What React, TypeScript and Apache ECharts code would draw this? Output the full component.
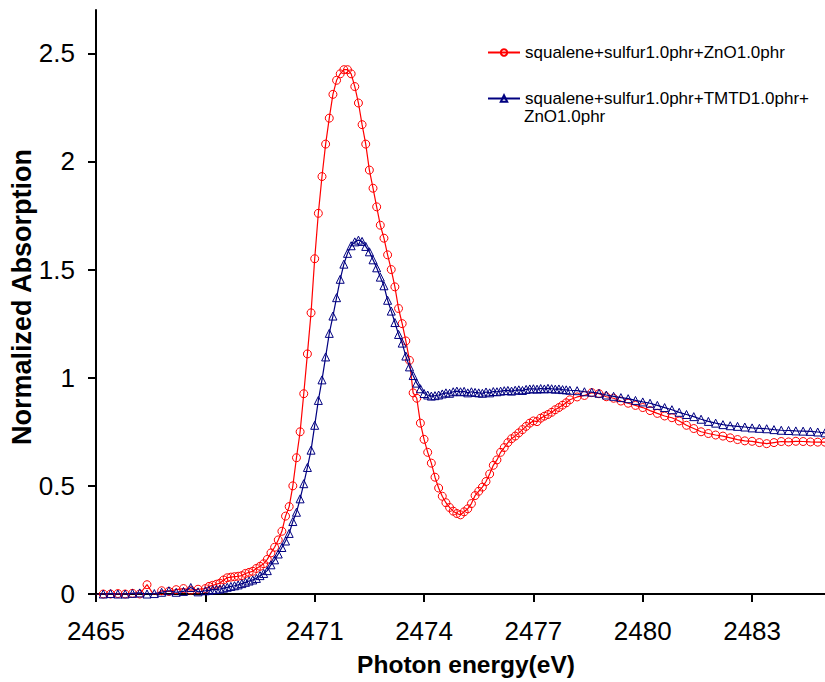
import React, { useEffect, useRef } from "react";
import * as echarts from "echarts";

// Photon energy (eV)
const energy: number[] = [
  2465.0, 2465.2, 2465.4, 2465.6, 2465.8, 2466.0, 2466.2, 2466.4, 2466.6, 2466.8,
  2467.0, 2467.2, 2467.4, 2467.6, 2467.8, 2468.0,
  2468.1, 2468.2, 2468.3, 2468.4, 2468.5, 2468.6, 2468.7, 2468.8, 2468.9, 2469.0,
  2469.1, 2469.2, 2469.3, 2469.4, 2469.5, 2469.6, 2469.7, 2469.8, 2469.9, 2470.0,
  2470.1, 2470.2, 2470.3, 2470.4, 2470.5, 2470.6, 2470.7, 2470.8, 2470.9, 2471.0,
  2471.1, 2471.2, 2471.3, 2471.4, 2471.5, 2471.6, 2471.7, 2471.8, 2471.9, 2472.0,
  2472.1, 2472.2, 2472.3, 2472.4, 2472.5, 2472.6, 2472.7, 2472.8, 2472.9, 2473.0,
  2473.1, 2473.2, 2473.3, 2473.4, 2473.5, 2473.6, 2473.7, 2473.8, 2473.9, 2474.0,
  2474.1, 2474.2, 2474.3, 2474.4, 2474.5, 2474.6, 2474.7, 2474.8, 2474.9, 2475.0,
  2475.1, 2475.2, 2475.3, 2475.4, 2475.5, 2475.6, 2475.7, 2475.8, 2475.9, 2476.0,
  2476.1, 2476.2, 2476.3, 2476.4, 2476.5, 2476.6, 2476.7, 2476.8, 2476.9, 2477.0,
  2477.1, 2477.2, 2477.3, 2477.4, 2477.5, 2477.6, 2477.7, 2477.8, 2477.9, 2478.0,
  2478.2, 2478.4, 2478.6, 2478.8, 2479.0, 2479.2, 2479.4, 2479.6, 2479.8, 2480.0,
  2480.2, 2480.4, 2480.6, 2480.8, 2481.0, 2481.2, 2481.4, 2481.6, 2481.8, 2482.0,
  2482.2, 2482.4, 2482.6, 2482.8, 2483.0, 2483.2, 2483.4, 2483.6, 2483.8, 2484.0,
  2484.2, 2484.4, 2484.6, 2484.8, 2485.0,
];

// squalene+sulfur1.0phr+ZnO1.0phr
const absorptionZnO: number[] = [
  -0.005, 0.0, 0.0, 0.002, 0.0, 0.003, 0.0, 0.043, -0.008, 0.015,
  0.012, 0.02, 0.025, 0.018, 0.022, 0.025,
  0.035, 0.04, 0.045, 0.05, 0.065, 0.075, 0.078, 0.08, 0.082, 0.085,
  0.095, 0.1, 0.105, 0.118, 0.128, 0.14, 0.16, 0.19, 0.216, 0.25,
  0.29, 0.36, 0.404, 0.5, 0.63, 0.75, 0.926, 1.11, 1.3, 1.55,
  1.76, 1.93, 2.08, 2.2, 2.31, 2.375, 2.405, 2.424, 2.424, 2.405,
  2.346, 2.27, 2.17, 2.08, 1.96, 1.876, 1.79, 1.705, 1.645, 1.568,
  1.5, 1.42, 1.32, 1.25, 1.17, 1.08, 0.93, 0.905, 0.79, 0.715,
  0.655, 0.605, 0.54, 0.49, 0.452, 0.422, 0.4, 0.383, 0.372, 0.366,
  0.38, 0.394, 0.418, 0.455, 0.475, 0.494, 0.52, 0.555, 0.595, 0.62,
  0.655, 0.677, 0.7, 0.718, 0.73, 0.745, 0.76, 0.775, 0.79, 0.8,
  0.797, 0.813, 0.822, 0.83, 0.84, 0.852, 0.862, 0.873, 0.884, 0.898,
  0.911, 0.918, 0.931, 0.926, 0.912, 0.905, 0.892, 0.882, 0.872, 0.862,
  0.848, 0.835, 0.823, 0.815, 0.8, 0.78, 0.765, 0.75, 0.742, 0.735,
  0.73, 0.722, 0.714, 0.708, 0.706, 0.7, 0.695, 0.7, 0.705, 0.703,
  0.706, 0.705, 0.703, 0.702, 0.702,
];

// squalene+sulfur1.0phr+TMTD1.0phr+ZnO1.0phr
const absorptionTMTD: number[] = [
  -0.003, 0.0, 0.002, 0.0, 0.0, 0.003, 0.005, 0.0, 0.002, 0.008,
  0.015, 0.008, 0.012, 0.03, 0.01, 0.015,
  0.017, 0.02, 0.021, 0.023, 0.027, 0.031, 0.035, 0.038, 0.042, 0.048,
  0.054, 0.06, 0.065, 0.072, 0.085, 0.095, 0.108, 0.135, 0.158, 0.185,
  0.215, 0.245, 0.28, 0.335, 0.378, 0.44, 0.51, 0.585, 0.665, 0.78,
  0.895, 0.99, 1.096, 1.205, 1.285, 1.37, 1.455, 1.525, 1.575, 1.61,
  1.628, 1.636, 1.63, 1.607, 1.582, 1.545, 1.508, 1.465, 1.425, 1.358,
  1.308, 1.255, 1.2, 1.16, 1.1, 1.05, 1.01, 0.975, 0.949, 0.927,
  0.92, 0.915, 0.917, 0.92, 0.925, 0.93, 0.928, 0.935, 0.938, 0.935,
  0.937, 0.93, 0.935, 0.932, 0.93, 0.928, 0.934, 0.93, 0.936, 0.935,
  0.938, 0.94, 0.941, 0.938, 0.942, 0.944, 0.941, 0.946, 0.948, 0.949,
  0.947, 0.95, 0.948, 0.951, 0.949, 0.947, 0.948, 0.945, 0.944, 0.942,
  0.94, 0.935, 0.933, 0.928, 0.92, 0.914, 0.908, 0.903, 0.895, 0.888,
  0.882, 0.872, 0.862, 0.852, 0.84, 0.83, 0.82, 0.808, 0.798, 0.79,
  0.783, 0.778, 0.775, 0.772, 0.768, 0.766, 0.764, 0.76, 0.757, 0.756,
  0.754, 0.753, 0.752, 0.749, 0.745,
];

const xTicks: number[] = [2465, 2468, 2471, 2474, 2477, 2480, 2483];
const yTicks: number[] = [0, 0.5, 1, 1.5, 2, 2.5];

const seriesNames: string[] = [
  "squalene+sulfur1.0phr+ZnO1.0phr",
  "squalene+sulfur1.0phr+TMTD1.0phr+ZnO1.0phr",
];

const FONT = "'Liberation Sans', Arial, Helvetica, sans-serif";

export default function App() {
  const ref = useRef<HTMLDivElement>(null);

  useEffect(() => {
    if (!ref.current) return;
    const chart = echarts.init(ref.current, undefined, { renderer: "svg" });
    const redData = energy.map((e, i) => [e, absorptionZnO[i]]);
    const blueData = energy.map((e, i) => [e, absorptionTMTD[i]]);

    chart.setOption({
      animation: false,
      backgroundColor: "#ffffff",
      textStyle: { fontFamily: FONT },
      grid: { left: 96, top: 10, right: 0, bottom: 88, containLabel: false },
      xAxis: {
        type: "value",
        min: 2465,
        max: 2485,
        axisLine: { show: true, onZero: false, lineStyle: { color: "#000", width: 2 } },
        axisTick: { show: true, inside: false, length: 8, customValues: xTicks, lineStyle: { color: "#000", width: 2 } },
        axisLabel: {
          customValues: xTicks,
          fontSize: 26,
          color: "#000",
          fontFamily: FONT,
          margin: 24,
          formatter: (v: number) => String(v),
        },
        splitLine: { show: false },
      },
      yAxis: {
        type: "value",
        min: 0,
        max: 2.7,
        axisLine: { show: true, onZero: false, lineStyle: { color: "#000", width: 2 } },
        axisTick: { show: true, inside: false, length: 8, customValues: yTicks, lineStyle: { color: "#000", width: 2 } },
        axisLabel: {
          customValues: yTicks,
          fontSize: 26,
          color: "#000",
          fontFamily: FONT,
          margin: 21,
          formatter: (v: number) => String(v),
        },
        splitLine: { show: false },
      },
      legend: [
        {
          data: [seriesNames[0]],
          left: 487,
          top: 44,
          itemWidth: 32,
          itemHeight: 8,
          selectedMode: false,
          padding: 0,
          textStyle: { fontSize: 17, color: "#000", fontFamily: FONT },
        },
        {
          data: [seriesNames[1]],
          left: 487,
          top: 90,
          itemWidth: 32,
          itemHeight: 8,
          selectedMode: false,
          padding: 0,
          formatter: () => "squalene+sulfur1.0phr+TMTD1.0phr+",
          textStyle: { fontSize: 17, color: "#000", fontFamily: FONT },
        },
      ],
      graphic: [
        {
          type: "text",
          left: 524,
          top: 108,
          style: { text: "ZnO1.0phr", font: `17px ${FONT}`, fill: "#000" },
        },
        {
          type: "line",
          shape: { x1: 88, y1: 594, x2: 96, y2: 594 },
          style: { stroke: "#000", lineWidth: 2 },
        },
        {
          type: "text",
          x: 466,
          y: 664,
          style: {
            text: "Photon energy(eV)",
            font: `bold 24.5px ${FONT}`,
            fill: "#000",
            textAlign: "center",
            textVerticalAlign: "middle",
          },
        },
        {
          type: "text",
          x: 22,
          y: 297,
          rotation: Math.PI / 2,
          style: {
            text: "Normalized Absorption",
            font: `bold 27px ${FONT}`,
            fill: "#000",
            textAlign: "center",
            textVerticalAlign: "middle",
          },
        },
      ],
      series: [
        {
          name: seriesNames[0],
          type: "line",
          data: redData,
          symbol: "circle",
          symbolSize: 8,
          showAllSymbol: true,
          lineStyle: { color: "#FF0000", width: 1.2 },
          itemStyle: { color: "rgba(255,255,255,0)", borderColor: "#FF0000", borderWidth: 1 },
          emphasis: { disabled: true },
          z: 2,
        },
        {
          name: seriesNames[1],
          type: "line",
          data: blueData,
          symbol: "triangle",
          symbolSize: 8,
          showAllSymbol: true,
          lineStyle: { color: "#000080", width: 1.2 },
          itemStyle: { color: "rgba(255,255,255,0)", borderColor: "#000080", borderWidth: 1 },
          emphasis: { disabled: true },
          z: 3,
        },
      ],
    });

    return () => chart.dispose();
  }, []);

  return (
    <div
      ref={ref}
      style={{ position: "fixed", left: 0, top: 0, width: 825, height: 682, background: "#fff" }}
    />
  );
}
